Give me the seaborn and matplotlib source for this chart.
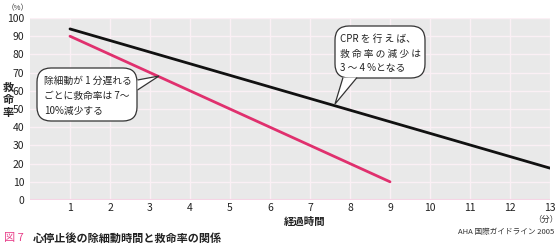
import matplotlib
matplotlib.use("Agg")
import matplotlib.pyplot as plt
import seaborn as sns
import pandas as pd
from matplotlib.patches import FancyBboxPatch, Polygon

# ---- data ----
cpr_minutes = [1, 13]
cpr_rates = [94, 17.5]
nocpr_minutes = [1, 9]
nocpr_rates = [90, 10]
x_ticks = list(range(1, 14))
y_ticks = list(range(0, 101, 10))

df = pd.concat([
    pd.DataFrame({"min": cpr_minutes, "rate": cpr_rates, "s": "cpr"}),
    pd.DataFrame({"min": nocpr_minutes, "rate": nocpr_rates, "s": "no"}),
])

sns.set_theme(style="darkgrid")
plt.rcParams['font.family'] = ['Noto Sans CJK JP', 'DejaVu Sans']

W, H = 560, 246
fig = plt.figure(figsize=(W / 100, H / 100), dpi=100)
ax = fig.add_axes([30 / W, 1 - 200 / H, 520 / W, 182 / H])
ax.set_facecolor('#e9e9e9')

sns.lineplot(data=df, x="min", y="rate", hue="s",
             palette={"cpr": "#111111", "no": "#e0306e"},
             linewidth=2, legend=False, ax=ax)

ax.set_xlim(0, 13)
ax.set_ylim(0, 100)
ax.set_xticks(x_ticks)
ax.set_yticks(y_ticks)
ax.grid(True, color='#fbf0f5', linewidth=1)
for s in ax.spines.values():
    s.set_visible(False)
ax.axhline(0, color='#f5d5e5', linewidth=1.5, zorder=1)
ax.tick_params(axis='both', length=0, labelsize=7.5, colors='#222222')
ax.tick_params(axis='x', pad=2)
ax.tick_params(axis='y', pad=4)
ax.set_xlabel("")
ax.set_ylabel("")

# axis labels
fig.text(8 / W, 1 - 100 / H, "救\n命\n率", fontsize=8, ha='center', va='center',
         linespacing=0.95, fontweight='bold', color='#222222')
fig.text(18 / W, 1 - 8 / H, "（%）", fontsize=5.5, ha='center', va='center', color='#333333')
fig.text(305 / W, 1 - 221.5 / H, "経過時間", fontsize=7.5, ha='center', va='center',
         fontweight='bold', color='#222222')
fig.text(558 / W, 1 - 219 / H, "（分）", fontsize=6, ha='right', va='center', color='#333333')
fig.text(554 / W, 1 - 232 / H, "AHA 国際ガイドライン 2005", fontsize=5.5, ha='right',
         va='center', color='#333333')
fig.text(4 / W, 1 - 238 / H, "図 7", fontsize=8, ha='left', va='center', color='#e8408a')
fig.text(33 / W, 1 - 238 / H, "心停止後の除細動時間と救命率の関係", fontsize=8, ha='left',
         va='center', fontweight='bold', color='#222222')

# callouts in pixel coords (figure)
def px(x, y):
    return (x / W, 1 - y / H)

def callout(x0, y0, x1, y1, tri, lines, tx, ty, dy):
    box = FancyBboxPatch(px(x0, y1), (x1 - x0) / W, (y1 - y0) / H,
                         boxstyle="round,pad=0,rounding_size=0.025",
                         transform=fig.transFigure, facecolor='white',
                         edgecolor='#333333', linewidth=0.9, zorder=5,
                         mutation_aspect=W / H)
    fig.add_artist(box)
    poly = Polygon([px(*p) for p in tri], closed=False, transform=fig.transFigure,
                   facecolor='white', edgecolor='#333333', linewidth=0.9, zorder=6)
    fig.add_artist(poly)
    for i, line in enumerate(lines):
        fig.text(tx / W, 1 - (ty + i * dy) / H, line, fontsize=7, ha='left',
                 va='center', color='#222222', zorder=7)

callout(37, 68, 137, 121,
        [(137.5, 80), (159, 76), (137.5, 90)],
        ["除細動が 1 分遅れる", "ごとに救命率は 7～", "10%減少する"],
        44, 81, 15)
callout(335, 26, 425, 78,
        [(343, 77.5), (335, 104), (357, 77.5)],
        ["CPR を 行 え ば、", "救 命 率 の 減 少 は", "3 ～ 4 %となる"],
        340, 39, 14.5)

fig.savefig("out.png", dpi=100)
